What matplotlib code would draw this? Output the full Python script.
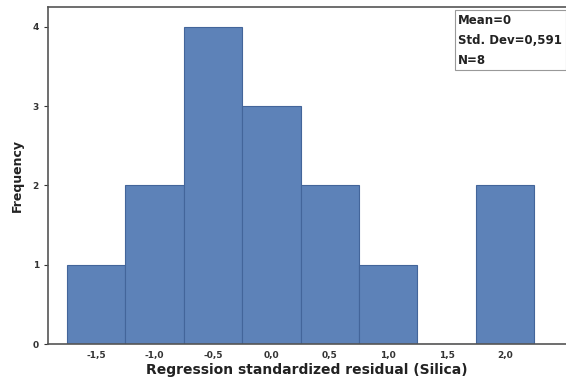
import numpy as np
import matplotlib
matplotlib.use("Agg")
import matplotlib.pyplot as plt

# histogram data
bin_centers = [-1.5, -1.0, -0.5, 0.0, 0.5, 1.0, 1.5, 2.0]
counts = [1, 2, 4, 3, 2, 1, 0, 2]
bin_width = 0.5
x_ticks = [-1.5, -1.0, -0.5, 0.0, 0.5, 1.0, 1.5, 2.0]
x_tick_labels = ["-1,5", "-1,0", "-0,5", "0,0", "0,5", "1,0", "1,5", "2,0"]
y_ticks = [0, 1, 2, 3, 4]
stats_lines = ["Mean=0", "Std. Dev=0,591", "N=8"]

fig = plt.figure(figsize=(5.66, 3.89), dpi=100)
ax = fig.add_axes([48 / 566, 1 - 344 / 389, 1 - 48 / 566, (344 - 7) / 389])

ax.bar(bin_centers, counts, width=bin_width, color="#5d82b8",
       edgecolor="#43659a", linewidth=0.8, zorder=2)

ax.set_xlim(-1.91, 2.52)
ax.set_ylim(0, 4.25)
ax.set_xticks(x_ticks)
ax.set_xticklabels(x_tick_labels)
ax.set_yticks(y_ticks)

for s in ["top", "left", "bottom"]:
    ax.spines[s].set_color("#555555")
    ax.spines[s].set_linewidth(1.2)
ax.spines["right"].set_visible(False)

ax.tick_params(axis="both", labelsize=6.5, colors="#333333", length=3, width=0.8)
ax.tick_params(axis="x", length=0, pad=5)
for lbl in ax.get_xticklabels() + ax.get_yticklabels():
    lbl.set_fontweight("bold")

ax.set_xlabel("Regression standardized residual (Silica)", fontsize=10,
              fontweight="bold", color="#222222", labelpad=2)
ax.set_ylabel("Frequency", fontsize=9, fontweight="bold", color="#222222",
              labelpad=6)

# stats box in the upper right corner
ax.text(0.792, 0.98, "\n".join(stats_lines), transform=ax.transAxes,
        ha="left", va="top", fontsize=8.5, fontweight="bold", color="#222222",
        linespacing=1.7,
        bbox=dict(boxstyle="square,pad=0.3", facecolor="white",
                  edgecolor="#999999", linewidth=0.8))

fig.savefig("out.png", dpi=100)
